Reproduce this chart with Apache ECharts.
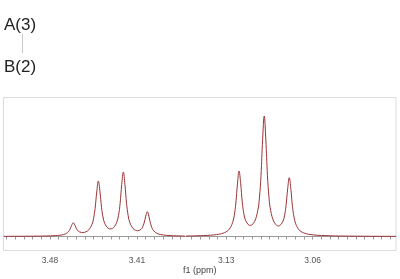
<!DOCTYPE html>
<html>
<head>
<meta charset="utf-8">
<script src="https://cdn.jsdelivr.net/npm/echarts@6/dist/echarts.min.js"></script>
<style>html,body{margin:0;padding:0;background:#fff}#c{width:400px;height:279px}</style>
</head>
<body>
<div id="c"></div>
<script>
// Left segment (ppm, intensity)
var leftPpm = [3.5170,3.4927,3.4797,3.4719,3.4691,3.4665,3.4652,3.4639,3.4626,3.4613,3.4600,3.4587,3.4574,3.4561,3.4535,3.4512,3.4489,3.4463,3.4450,3.4437,3.4424,3.4411,3.4398,3.4385,3.4372,3.4359,3.4333,3.4310,3.4288,3.4262,3.4249,3.4236,3.4223,3.4210,3.4197,3.4184,3.4171,3.4158,3.4132,3.4113,3.4095,3.4069,3.4056,3.4043,3.4030,3.4017,3.4004,3.3991,3.3978,3.3965,3.3939,3.3913,3.3861,3.3809,3.3714];
var leftVal = [0.15,0.33,0.64,1.29,1.94,3.33,4.76,7.27,11.15,13.79,11.41,7.81,5.59,4.5,4.0,4.68,6.55,11.93,17.78,28.23,44.53,55.45,44.75,28.69,18.5,12.95,8.38,7.63,8.91,14.55,21.13,33.1,51.92,64.46,51.8,32.85,20.74,14.0,7.95,6.3,5.81,7.1,9.27,13.5,20.29,24.79,19.95,12.81,8.2,5.59,3.1,2.02,1.12,0.74,0.43];
// Right segment
var rightPpm = [3.1626,3.1456,3.1352,3.1300,3.1274,3.1248,3.1235,3.1222,3.1209,3.1196,3.1183,3.1170,3.1157,3.1144,3.1118,3.1106,3.1094,3.1070,3.1044,3.1031,3.1018,3.1005,3.0992,3.0979,3.0966,3.0953,3.0940,3.0914,3.0891,3.0878,3.0867,3.0841,3.0828,3.0815,3.0802,3.0789,3.0776,3.0763,3.0750,3.0737,3.0711,3.0685,3.0633,3.0529,3.0300,2.9924];
var rightVal = [0.48,1.09,2.45,4.72,7.5,14.07,21.05,33.4,52.6,65.5,53.1,34.4,22.7,16.35,11.53,11.14,11.52,14.93,26.1,38.66,61.3,96.8,120.4,96.74,61.24,38.57,25.98,14.73,11.18,10.6,10.88,15.02,20.6,31.06,47.7,58.77,47.21,30.04,18.99,12.75,6.84,4.33,2.28,1.03,0.38,0.15];
// Axis ranges and ticks
var leftRange = [3.3714, 3.5170];
var rightRange = [2.9924, 3.1626];
var leftLabels = [3.48, 3.41];
var rightLabels = [3.13, 3.06];
var leftTicks = [3.375,3.382,3.389,3.396,3.403,3.410,3.417,3.424,3.431,3.438,3.445,3.452,3.459,3.466,3.473,3.480,3.487,3.494,3.501,3.508,3.515];
var rightTicks = [3.158,3.151,3.144,3.137,3.130,3.123,3.116,3.109,3.102,3.095,3.088,3.081,3.074,3.067,3.060,3.053,3.046,3.039,3.032,3.025,3.018,3.011,3.004,2.997];
var yRange = [-14.5, 139.5];
var headerTop = 'A(3)', headerBottom = 'B(2)', axisName = 'f1 (ppm)';

function pairs(xs, ys){ return xs.map(function(x,i){ return [x, ys[i]]; }); }
function xAxisCfg(idx, range, labels, ticks){
  return {
    type:'value', gridIndex: idx, inverse: true, min: range[0], max: range[1],
    axisLine:{show:true, lineStyle:{color:'#9a9a9a', width:1}},
    axisTick:{show:true, customValues: ticks, length:3, inside:false, lineStyle:{color:'#9a9a9a'}},
    axisLabel:{show:true, customValues: labels, margin:5, fontSize:8.5, color:'#555',
      fontFamily:'Liberation Sans', formatter:function(v){ return v.toFixed(2); }},
    splitLine:{show:false}
  };
}
function yAxisCfg(idx){
  return {type:'value', gridIndex: idx, min: yRange[0], max: yRange[1], show:false, splitLine:{show:false}};
}
var chart = echarts.init(document.getElementById('c'), null, {renderer:'canvas'});
var lineColor = '#9b3436';
chart.setOption({
  animation:false,
  backgroundColor:'#fff',
  grid:[
    {left:4, top:97, width:181, height:154},
    {left:186, top:97, width:210, height:154}
  ],
  xAxis:[xAxisCfg(0, leftRange, leftLabels, leftTicks), xAxisCfg(1, rightRange, rightLabels, rightTicks)],
  yAxis:[yAxisCfg(0), yAxisCfg(1)],
  series:[
    {type:'line', xAxisIndex:0, yAxisIndex:0, data:pairs(leftPpm,leftVal), showSymbol:false, smooth:0.4,
     lineStyle:{color:lineColor, width:1}, clip:true},
    {type:'line', xAxisIndex:1, yAxisIndex:1, data:pairs(rightPpm,rightVal), showSymbol:false, smooth:0.4,
     lineStyle:{color:lineColor, width:1}, clip:true}
  ],
  graphic:[
    {type:'rect', shape:{x:3.5, y:97.5, width:392.5, height:153}, style:{fill:null, stroke:'#dcdcdc', lineWidth:1}, z:-1},
    {type:'text', left:4, top:17, style:{text:headerTop, font:'17px "Liberation Sans"', fill:'#222'}},
    {type:'line', shape:{x1:22.5, y1:34, x2:22.5, y2:53}, style:{stroke:'#c8c8c8', lineWidth:1}},
    {type:'text', left:4, top:59, style:{text:headerBottom, font:'17px "Liberation Sans"', fill:'#222'}},
    {type:'text', left:183, top:266, style:{text:axisName, font:'9px "Liberation Sans"', fill:'#444'}}
  ]
});
</script>
</body>
</html>
